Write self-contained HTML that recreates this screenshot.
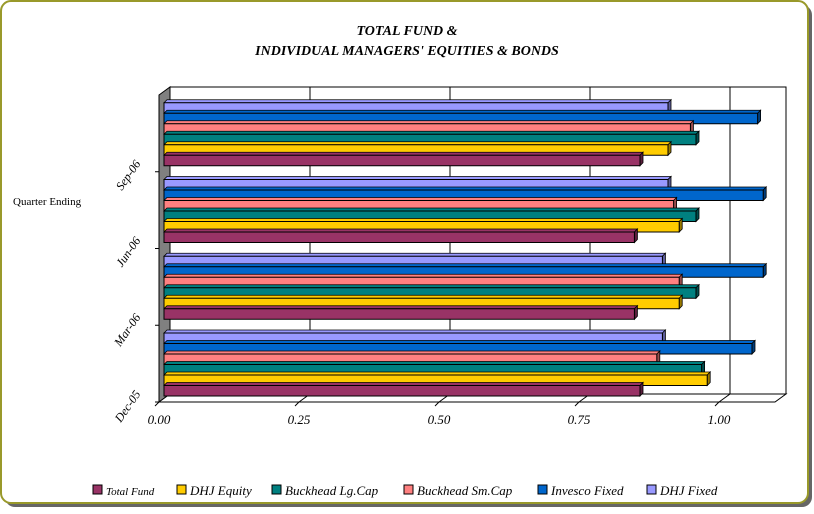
<!DOCTYPE html>
<html><head><meta charset="utf-8"><style>
body{margin:0;background:#fff;width:814px;height:509px;overflow:hidden}
svg{font-family:"Liberation Serif",serif}
</style></head><body>
<svg width="814" height="509">
<rect x="5" y="5" width="807" height="502" rx="10" fill="#000" opacity="0.6"/>
<rect x="1" y="1" width="807" height="502" rx="10" fill="#fff" stroke="#99992a" stroke-width="2"/>
<text x="407" y="35" text-anchor="middle" font-size="14" font-weight="bold" font-style="italic">TOTAL FUND &amp;</text>
<text x="407" y="55" text-anchor="middle" font-size="14" font-weight="bold" font-style="italic">INDIVIDUAL MANAGERS' EQUITIES &amp; BONDS</text>
<text x="13" y="205" font-size="11">Quarter Ending</text>
<g id="plot"></g>
<g id="legend"></g>
</svg>
<script>
const categories=["Dec-05","Mar-06","Jun-06","Sep-06"];
const seriesNames=["Total Fund","DHJ Equity","Buckhead Lg.Cap","Buckhead Sm.Cap","Invesco Fixed","DHJ Fixed"];
const totalFund=[0.85,0.84,0.84,0.85];
const dhjEquity=[0.97,0.92,0.92,0.90];
const lgCap=[0.96,0.95,0.95,0.95];
const smCap=[0.88,0.92,0.91,0.94];
const invesco=[1.05,1.07,1.07,1.06];
const dhjFixed=[0.89,0.89,0.90,0.90];
const xTicks=[0,0.25,0.5,0.75,1.0];
const xTickLabels=["0.00","0.25","0.50","0.75","1.00"];
const series=[totalFund,dhjEquity,lgCap,smCap,invesco,dhjFixed];
const colors=["#993366","#ffcc00","#008080","#ff8080","#0066cc","#9999ff"];
const sides=["#5c1f3d","#997a00","#004d4d","#994d4d","#003d7a","#5c5c99"];
const NS="http://www.w3.org/2000/svg";
const plot=document.getElementById('plot');
function mk(tag,attrs,parent){const e=document.createElementNS(NS,tag);for(const k in attrs)e.setAttribute(k,attrs[k]);(parent||plot).appendChild(e);return e;}
const X0=159,XS=560,DX=11,DY=-8,YB=402,YT=95;
function xf(v){return X0+v*XS;}
const catH=(YB-YT)/categories.length;
function yCat(i){return YB-(i+1)*catH;}
// back wall & floor
let w=mk('polygon',{points:`${X0+DX},${YT+DY} ${xf(1.1)+DX},${YT+DY} ${xf(1.1)+DX},${YB+DY} ${X0+DX},${YB+DY}`,fill:'#fff',stroke:'#000'});

let s=mk('polygon',{points:`${X0},${YT} ${X0+DX},${YT+DY} ${X0+DX},${YB+DY} ${X0},${YB}`,fill:'#808080',stroke:'#000'});

let f=mk('polygon',{points:`${X0},${YB} ${X0+DX},${YB+DY} ${xf(1.1)+DX},${YB+DY} ${xf(1.1)},${YB}`,fill:'#fff',stroke:'#000'});

xTicks.forEach((t,i)=>{
 if(t>0){const g=mk('polyline',{points:`${xf(t)},${YB} ${xf(t)+DX},${YB+DY} ${xf(t)+DX},${YT+DY}`,fill:'none',stroke:'#000'});
 }
 const tk=mk('line',{x1:xf(t),y1:YB,x2:xf(t)-4,y2:YB+4,stroke:'#000'});
 
 const l=mk('text',{x:xf(t),y:YB+22,'text-anchor':'middle','font-size':'13','font-style':'italic'});
 l.textContent=xTickLabels[i];
 
});
const ax=mk('line',{x1:X0,y1:YB,x2:xf(1.1),y2:YB,stroke:'#000'});

categories.forEach((c,ci)=>{
 const top=yCat(ci);
 const tk=mk('line',{x1:X0-4,y1:top+catH,x2:X0,y2:top+catH,stroke:'#000'});
 
 const lx=X0-18,ly=top+catH-8;
 const l=mk('text',{x:lx,y:ly,'text-anchor':'end','font-size':'12','font-style':'italic',transform:`rotate(-55 ${lx} ${ly})`});
 l.textContent=c;
 
 const bh=10.5, start=top+catH-6-bh*6;
 for(let si=5;si>=0;si--){
  const v=series[si][ci];
  const y=start+(5-si)*bh;
  const x1=xf(0)+5,x2=xf(v)+5;
  const g=mk('g',{});
  
  
  mk('polygon',{points:`${x1},${y} ${x1+3},${y-3} ${x2+3},${y-3} ${x2},${y}`,fill:colors[si],stroke:'#000','stroke-width':0.8},g);
  mk('polygon',{points:`${x2},${y} ${x2+3},${y-3} ${x2+3},${y+bh-3} ${x2},${y+bh}`,fill:sides[si],stroke:'#000','stroke-width':0.8},g);
  mk('rect',{x:x1,y:y,width:x2-x1,height:bh,fill:colors[si],stroke:'#000','stroke-width':1},g);
 }
});
const lg=document.getElementById('legend');
const lx=[93,177,272,404,538,647];
seriesNames.forEach((n,i)=>{
 const g=mk('g',{},lg);
 
 mk('rect',{x:lx[i],y:485,width:9,height:9,fill:colors[i],stroke:'#000'},g);
 const t=mk('text',{x:lx[i]+13,y:495,'font-size':i==0?'11':'13','font-style':'italic'},g);
 t.textContent=n;
});
</script>
</body></html>
